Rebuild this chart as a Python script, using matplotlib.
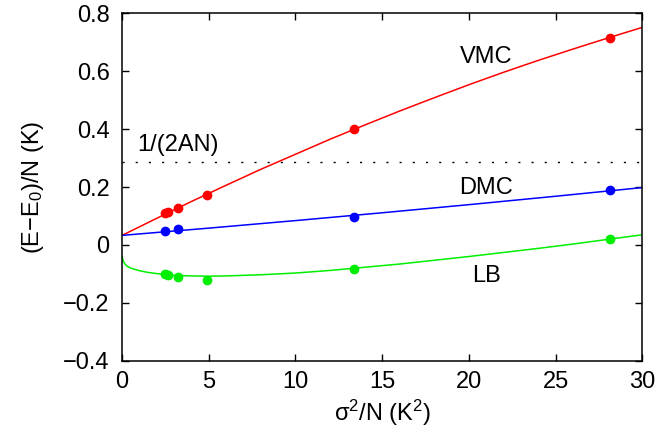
import matplotlib
matplotlib.use("Agg")
import matplotlib.pyplot as plt

plt.rcParams['font.family'] = ['Liberation Sans', 'DejaVu Sans']
plt.rcParams['mathtext.fontset'] = 'custom'
plt.rcParams['mathtext.rm'] = 'Liberation Sans'
plt.rcParams['mathtext.it'] = 'Liberation Sans'

# measured points
vmc_x = [2.48, 2.67, 3.23, 4.92, 13.38, 28.15]
vmc_y = [0.109, 0.113, 0.128, 0.172, 0.399, 0.716]
dmc_x = [2.48, 3.23, 13.38, 28.15]
dmc_y = [0.047, 0.054, 0.098, 0.189]
lb_x = [2.48, 2.67, 3.23, 4.92, 13.38, 28.15]
lb_y = [-0.101, -0.103, -0.109, -0.121, -0.082, 0.020]

# fitted curves
vmc_fx = [0, 2, 4, 6, 8, 10, 12, 14, 16, 18, 20, 22, 24, 26, 28, 30]
vmc_fy = [0.033, 0.092, 0.150, 0.206, 0.261, 0.313, 0.365, 0.414, 0.462,
          0.508, 0.553, 0.596, 0.637, 0.676, 0.714, 0.751]
dmc_fx = [0, 5, 10, 15, 20, 25, 30]
dmc_fy = [0.033, 0.058, 0.084, 0.111, 0.139, 0.168, 0.198]
lb_fx = [0, 0.05, 0.1, 0.25, 0.5, 1, 1.5, 2, 3, 4, 5, 6, 8, 10, 12, 14, 16,
         18, 20, 22, 24, 26, 28, 30]
lb_fy = [-0.040, -0.052, -0.060, -0.072, -0.080, -0.089, -0.095, -0.099,
         -0.105, -0.107, -0.108, -0.107, -0.103, -0.097, -0.088, -0.077,
         -0.066, -0.053, -0.040, -0.026, -0.012, 0.003, 0.019, 0.035]

ref_level = 0.285
ref_x = [0, 30]

xticks = [0, 5, 10, 15, 20, 25, 30]
yticks = [-0.4, -0.2, 0, 0.2, 0.4, 0.6, 0.8]
ytick_labels = ['\u22120.4', '\u22120.2', '0', '0.2', '0.4', '0.6', '0.8']

red = '#ff0000'
blue = '#0000ff'
green = '#00ee00'

fig = plt.figure(figsize=(6.6, 4.4), dpi=100)
ax = fig.add_axes([0.185, 0.180, 0.788, 0.790])

ax.plot(vmc_fx, vmc_fy, color=red, lw=1.1)
ax.plot(dmc_fx, dmc_fy, color=blue, lw=1.1)
ax.plot(lb_fx, lb_fy, color=green, lw=1.1)
ax.plot(ref_x, [ref_level, ref_level], color='black', lw=1.0,
        linestyle=(0, (1.5, 8)))

ax.plot(vmc_x, vmc_y, 'o', color=red, ms=6, mec=red)
ax.plot(dmc_x, dmc_y, 'o', color=blue, ms=6, mec=blue)
ax.plot(lb_x, lb_y, 'o', color=green, ms=6, mec=green)

fs = 17
ax.text(21.0, 0.649, 'VMC', fontsize=fs, ha='center', va='center')
ax.text(21.0, 0.196, 'DMC', fontsize=fs, ha='center', va='center')
ax.text(21.0, -0.107, 'LB', fontsize=fs, ha='center', va='center')
ax.text(0.85, 0.345, '1/(2AN)', fontsize=fs, ha='left', va='center')

ax.set_xlim(0, 30)
ax.set_ylim(-0.4, 0.8)
ax.set_xticks(xticks)
ax.set_xticklabels([str(t) for t in xticks])
ax.set_yticks(yticks)
ax.set_yticklabels(ytick_labels)
ax.tick_params(direction='in', length=5, width=1, top=True, right=True,
               labelsize=fs)
ax.tick_params(axis='y', pad=9)
ax.tick_params(axis='x', pad=7)
for s in ax.spines.values():
    s.set_linewidth(1.1)

ax.set_xlabel(r'$\mathrm{\sigma^2/N\ (K^2)}$', fontsize=fs, labelpad=4)
ax.set_ylabel(r'(E$-$E$_0$)/N (K)', fontsize=fs, labelpad=12)

fig.savefig('out.png', dpi=100)
